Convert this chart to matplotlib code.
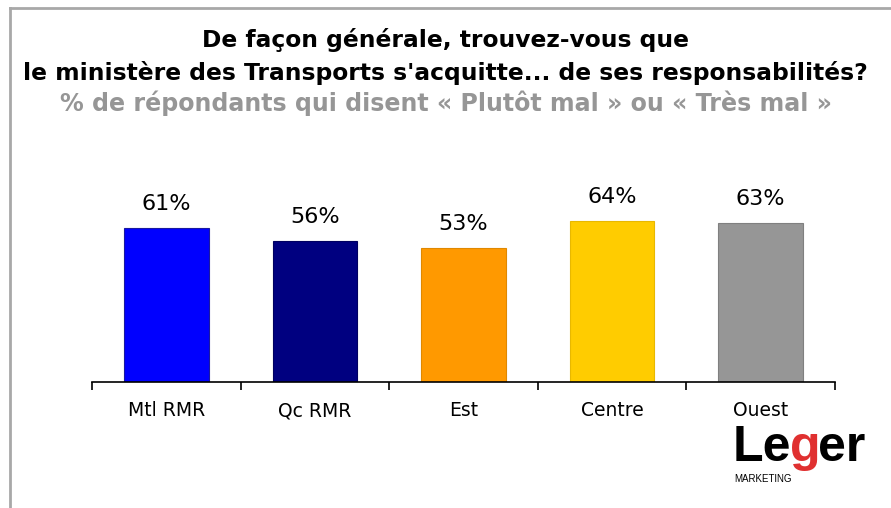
import matplotlib
matplotlib.use("Agg")
import matplotlib.pyplot as plt
from matplotlib.lines import Line2D

categories = ["Mtl RMR", "Qc RMR", "Est", "Centre", "Ouest"]
values = [61, 56, 53, 64, 63]
colors = ["#0000FF", "#000080", "#FF9900", "#FFCC00", "#969696"]
edge_colors = ["#1A1AA0", "#000060", "#E08800", "#E8B800", "#808080"]
title1 = "De façon générale, trouvez-vous que"
title2 = "le ministère des Transports s'acquitte... de ses responsabilités?"
subtitle = "% de répondants qui disent « Plutôt mal » ou « Très mal »"

W, H = 891, 508
fig = plt.figure(figsize=(W / 100, H / 100), dpi=100)
fig.patch.set_facecolor("white")

# frame lines (left and top)
fig.add_artist(Line2D([10 / W, 10 / W], [0, 1 - 8 / H], transform=fig.transFigure,
                      color="#A8A8A8", lw=2))
fig.add_artist(Line2D([10 / W, 1], [1 - 8 / H, 1 - 8 / H], transform=fig.transFigure,
                      color="#A8A8A8", lw=2))

ax = fig.add_axes([92 / W, (H - 382) / H, (835 - 92) / W, (382 - 130) / H])
x = list(range(len(categories)))
ax.bar(x, values, width=0.57, color=colors, edgecolor=edge_colors, linewidth=0.8, zorder=2)
ax.set_xlim(-0.5, len(categories) - 0.5)
ax.set_ylim(0, 100)
for xi, v in zip(x, values):
    ax.text(xi, v + 9.5, f"{v}%", ha="center", va="center", fontsize=16,
            color="black")

for s in ["top", "right", "left"]:
    ax.spines[s].set_visible(False)
ax.spines["bottom"].set_linewidth(1.2)
ax.set_yticks([])
ax.set_xticks([i - 0.5 for i in range(len(categories) + 1)])
ax.set_xticklabels([])
ax.tick_params(axis="x", which="major", length=6, width=1.2, direction="out")
ax.set_xticks(x, minor=True)
ax.set_xticklabels(categories, minor=True, fontsize=13.5)
ax.tick_params(axis="x", which="minor", length=0, pad=14)

fig.text(0.5, 1 - 40 / H, title1, ha="center", va="center", fontsize=16.8,
         fontweight="bold", color="black")
fig.text(0.5, 1 - 73 / H, title2, ha="center", va="center", fontsize=16.8,
         fontweight="bold", color="black")
fig.text(0.5, 1 - 103 / H, subtitle, ha="center", va="center", fontsize=17.1,
         fontweight="bold", color="#969696")

# logo
renderer = fig.canvas.get_renderer()
xpos = 733
parts = [("Le", "black"), ("g", "#E03030"), ("er", "black")]
for txt, col in parts:
    t = fig.text(xpos / W, 1 - 448 / H, txt, ha="left", va="center", fontsize=36,
                 fontweight="bold", color=col, family="Liberation Sans")
    bb = t.get_window_extent(renderer=renderer)
    xpos += bb.width - 2
fig.text(734 / W, 1 - 479 / H, "MARKETING", ha="left", va="center", fontsize=7,
         color="black", family="Liberation Sans")

fig.savefig("out.png", dpi=100, facecolor="white")
